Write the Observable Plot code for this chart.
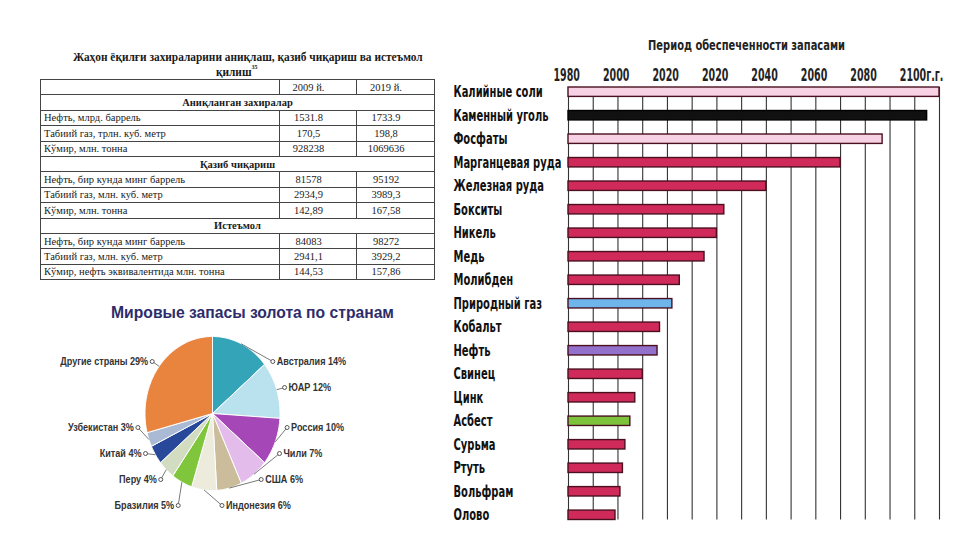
<!DOCTYPE html>
<html><head><meta charset="utf-8">
<script src="https://cdn.jsdelivr.net/npm/d3@7"></script>
<script src="https://cdn.jsdelivr.net/npm/@observablehq/plot@0.6"></script>
<style>
html,body{margin:0;padding:0;background:#fff}
#page{position:relative;width:961px;height:540px;overflow:hidden;background:#fff}
#tableBlock{position:absolute;left:40px;top:49px;width:394px;font-family:"Liberation Serif","Times New Roman",serif;color:#1a1a1a}
#tableTitle{font-weight:bold;font-size:13.5px;line-height:15px;height:30px}
#tableTitle .ln{display:flex;justify-content:center;white-space:nowrap}
#tableTitle .l1{padding-left:22px}
#tableTitle .ln span{display:inline-block;transform-origin:center center;flex:none}
#tableTitle sup{font-size:7px;vertical-align:top;line-height:7px}
table{border-collapse:collapse;width:394px;table-layout:fixed;font-size:10.5px}
td{border:1px solid #444;height:14.4px;padding:0 3px;line-height:13px;white-space:nowrap;overflow:hidden}
td.v{text-align:center;padding-right:22px}
td.s{text-align:center;font-weight:bold}
#pieBlock{position:absolute;left:60px;top:295px}
#barBlock{position:absolute;left:440px;top:30px}
svg{display:block}
</style></head>
<body>
<div id="page">
  <div id="tableBlock">
    <div id="tableTitle"><div class="ln l1"><span id="tt1">Жаҳон ёқилғи захираларини аниқлаш, қазиб чиқариш ва истеъмол</span></div><div class="ln"><span id="tt2">қилиш<sup>35</sup></span></div></div>
  </div>
  <div id="pieBlock"></div>
  <div id="barBlock"></div>
</div>
<script>
// ---------- Table data ----------
const tableYears = ["2009 й.", "2019 й."];
const tableSections = ["Аниқланган захиралар", "Қазиб чиқариш", "Истеъмол"];
const reservesRows = ["Нефть, млрд. баррель", "Табиий газ, трлн. куб. метр", "Кўмир, млн. тонна"];
const reserves2009 = ["1531.8", "170,5", "928238"];
const reserves2019 = ["1733.9", "198,8", "1069636"];
const productionRows = ["Нефть, бир кунда минг баррель", "Табиий газ, млн. куб. метр", "Кўмир, млн. тонна"];
const production2009 = ["81578", "2934,9", "142,89"];
const production2019 = ["95192", "3989,3", "167,58"];
const consumptionRows = ["Нефть, бир кунда минг баррель", "Табиий газ, млн. куб. метр", "Кўмир, нефть эквивалентида млн. тонна"];
const consumption2009 = ["84083", "2941,1", "144,53"];
const consumption2019 = ["98272", "3929,2", "157,86"];

// ---------- Pie data ----------
const pieTitle = "Мировые запасы золота по странам";
const goldCountries = ["Австралия", "ЮАР", "Россия", "Чили", "США", "Индонезия", "Бразилия", "Перу", "Китай", "Узбекистан", "Другие страны"];
const goldShares = [14, 12, 10, 7, 6, 6, 5, 4, 4, 3, 29];
const goldColors = ["#34a4b8", "#b9e2ee", "#a547b6", "#e4bcec", "#cbbd9c", "#ecebdc", "#7fc63c", "#d2dcc0", "#28489a", "#aabad5", "#e8843e"];

// ---------- Bar data ----------
const barTitle = "Период обеспеченности запасами";
const minerals = ["Калийные соли", "Каменный уголь", "Фосфаты", "Марганцевая руда", "Железная руда", "Бокситы", "Никель", "Медь", "Молибден", "Природный газ", "Кобальт", "Нефть", "Свинец", "Цинк", "Асбест", "Сурьма", "Ртуть", "Вольфрам", "Олово"];
const supplyEndYear = [2130, 2125, 2107, 2090, 2060, 2043, 2040, 2035, 2025, 2022, 2017, 2016, 2010, 2007, 2005, 2003, 2002, 2001, 1999];
const yearTicks = [1980, 2000, 2020, 2040, 2060, 2080, 2100, 2120];
const yearTickLabels = ["1980", "2000", "2020", "2020", "2040", "2060", "2080", "2100г.г."];
const specialFills = {"Калийные соли": "#f6d2e4", "Каменный уголь": "#111111", "Фосфаты": "#f6d2e4", "Природный газ": "#6db5ea", "Нефть": "#9270cc", "Асбест": "#7cc23a"};
const defaultFill = "#cf2a5a";

// ---------- helper: condense SVG texts horizontally (scale about the anchor) ----------
function fitTexts(svg, values, refText, targetWidth) {
  const set = new Set(values);
  const texts = [...svg.querySelectorAll("text")].filter(t => set.has(t.textContent));
  if (!texts.length) return;
  const ref = texts.find(t => t.textContent === refText) || texts[0];
  const f = targetWidth / ref.getComputedTextLength();
  texts.forEach(t => {
    const ax = Number(t.getAttribute("x") || 0);
    const prev = t.getAttribute("transform") || "";
    t.setAttribute("transform", `${prev} translate(${ax},0) scale(${f.toFixed(4)},1) translate(${-ax},0)`.trim());
  });
}

// ---------- Table ----------
const tt1 = document.getElementById("tt1"), tt2 = document.getElementById("tt2");
const tf = 350 / tt1.offsetWidth;
tt1.style.transform = `scaleX(${tf})`;
tt2.style.transform = `scaleX(${tf})`;
const tbl = d3.select("#tableBlock").append("table");
const colg = tbl.append("colgroup");
colg.append("col").style("width", "239px");
colg.append("col").style("width", "77px");
colg.append("col").style("width", "78px");
const hdr = tbl.append("tr");
hdr.append("td");
tableYears.forEach(y => hdr.append("td").attr("class", "v").text(y));
const sectionsDef = [
  [tableSections[0], reservesRows, reserves2009, reserves2019],
  [tableSections[1], productionRows, production2009, production2019],
  [tableSections[2], consumptionRows, consumption2009, consumption2019]
];
for (const [title, rows, a, b] of sectionsDef) {
  tbl.append("tr").append("td").attr("colspan", 3).attr("class", "s").text(title);
  rows.forEach((r, i) => {
    const tr = tbl.append("tr");
    tr.append("td").text(r);
    tr.append("td").attr("class", "v").text(a[i]);
    tr.append("td").attr("class", "v").text(b[i]);
  });
}

// ---------- Pie ----------
const PIE = {w: 350, h: 225, cx: 152, cy: 118, rx: 67.5, ry: 77};
const total = d3.sum(goldShares);
let acc = 0;
const slices = goldCountries.map((c, i) => {
  const a0 = acc / total * 2 * Math.PI; acc += goldShares[i];
  const a1 = acc / total * 2 * Math.PI;
  return {country: c, share: goldShares[i], a0, a1, mid: (a0 + a1) / 2};
});
const slicePts = [];
for (const s of slices) {
  slicePts.push({country: s.country, x: 0, y: 0});
  const n = Math.max(2, Math.ceil((s.a1 - s.a0) / (Math.PI / 180)));
  for (let j = 0; j <= n; j++) {
    const a = s.a0 + (s.a1 - s.a0) * j / n;
    slicePts.push({country: s.country, x: Math.sin(a), y: Math.cos(a)});
  }
  slicePts.push({country: s.country, x: 0, y: 0});
}
const K = 1.12, GAP = 26 / PIE.ry, YMAX = 52 / PIE.ry, YMIN = -92 / PIE.ry;
const labels = slices.map(s => ({...s, side: Math.sin(s.mid) > -0.2 ? 1 : -1, y: K * Math.cos(s.mid)}));
for (const side of [1, -1]) {
  const g = labels.filter(d => d.side === side).sort((a, b) => b.y - a.y);
  for (let it = 0; it < 300; it++) {
    for (let i = 0; i < g.length - 1; i++) {
      const d = g[i].y - g[i + 1].y;
      if (d < GAP) { const m = (GAP - d) / 2; g[i].y += m; g[i + 1].y -= m; }
    }
    for (const d of g) d.y = Math.max(YMIN, Math.min(YMAX, d.y));
  }
}
for (const d of labels) {
  const fromY = K * Math.sqrt(Math.max(0, 1 - (d.y / K) ** 2));
  d.x = d.side * Math.max(fromY, K * Math.abs(Math.sin(d.mid)));
  d.ex = Math.sin(d.mid); d.ey = Math.cos(d.mid);
  d.label = `${d.country} ${d.share}%`;
}
const pieLabelStyle = {x: "x", y: "y", text: "label", fontWeight: "bold", fontSize: 11, fill: "#333"};
const pie = Plot.plot({
  width: PIE.w, height: PIE.h, margin: 0,
  x: {domain: [-PIE.cx / PIE.rx, (PIE.w - PIE.cx) / PIE.rx], axis: null},
  y: {domain: [-(PIE.h - PIE.cy) / PIE.ry, PIE.cy / PIE.ry], axis: null},
  color: {domain: goldCountries, range: goldColors},
  style: {fontFamily: "'Liberation Sans', Arial, sans-serif", background: "transparent", overflow: "visible"},
  marks: [
    Plot.line(slicePts, {x: "x", y: "y", z: "country", fill: "country", stroke: "white", strokeWidth: 1}),
    Plot.link(labels, {x1: "ex", y1: "ey", x2: "x", y2: "y", stroke: "#6b6b6b", strokeWidth: 0.9}),
    Plot.dot(labels, {x: "x", y: "y", r: 2, fill: "white", stroke: "#555", strokeWidth: 1}),
    Plot.text(labels.filter(d => d.side > 0), {...pieLabelStyle, textAnchor: "start", dx: 4}),
    Plot.text(labels.filter(d => d.side < 0), {...pieLabelStyle, textAnchor: "end", dx: -4}),
    Plot.text([pieTitle], {frameAnchor: "top", text: d => d, dx: 17, dy: 10, fontSize: 17, fontWeight: "bold", fill: "#2d2d6b"})
  ]
});
document.getElementById("pieBlock").append(pie);
fitTexts(pie, [pieTitle], pieTitle, 283);
fitTexts(pie, labels.map(d => d.label), "Другие страны 29%", 88);

// ---------- Bars ----------
const BAR = {w: 521, h: 500, ml: 128, mr: 22, mt: 57, mb: 10.5};
const barData = minerals.map((m, i) => ({name: m, end: supplyEndYear[i]}));
const bars = Plot.plot({
  width: BAR.w, height: BAR.h,
  marginLeft: BAR.ml, marginRight: BAR.mr, marginTop: BAR.mt, marginBottom: BAR.mb,
  x: {domain: [1980, 2130], axis: null},
  y: {domain: minerals, axis: null, paddingInner: 0.6, paddingOuter: 0, round: false},
  color: {type: "identity"},
  style: {fontFamily: "'DejaVu Sans', sans-serif", background: "transparent", overflow: "visible"},
  marks: [
    Plot.ruleX(d3.range(1980, 2131, 10), {stroke: "#333", strokeWidth: 1.1}),
    Plot.barX(barData, {
      y: "name", x1: () => 1980, x2: "end", inset: 0,
      fill: d => specialFills[d.name] ?? defaultFill,
      stroke: d => d.name === "Каменный уголь" ? "#000" : "#4a1020",
      strokeWidth: 1.4
    }),
    Plot.text(minerals, {y: d => d, text: d => d, frameAnchor: "left", textAnchor: "start", dx: -115, fontSize: 15, fontWeight: "bold", fill: "#111"}),
    Plot.text(yearTicks, {x: d => d, text: (d, i) => yearTickLabels[i], frameAnchor: "top", textAnchor: "start", dx: -15, dy: -19, fontSize: 17, fontWeight: "bold", fill: "#222"}),
    Plot.text([barTitle], {frameAnchor: "top", text: d => d, dx: -7.5, dy: -47, fontSize: 14, fontWeight: "bold", fill: "#222"})
  ]
});
document.getElementById("barBlock").append(bars);
fitTexts(bars, minerals, "Марганцевая руда", 108);
fitTexts(bars, yearTickLabels, "2000", 26.5);
fitTexts(bars, [barTitle], barTitle, 197);
</script>
</body></html>
